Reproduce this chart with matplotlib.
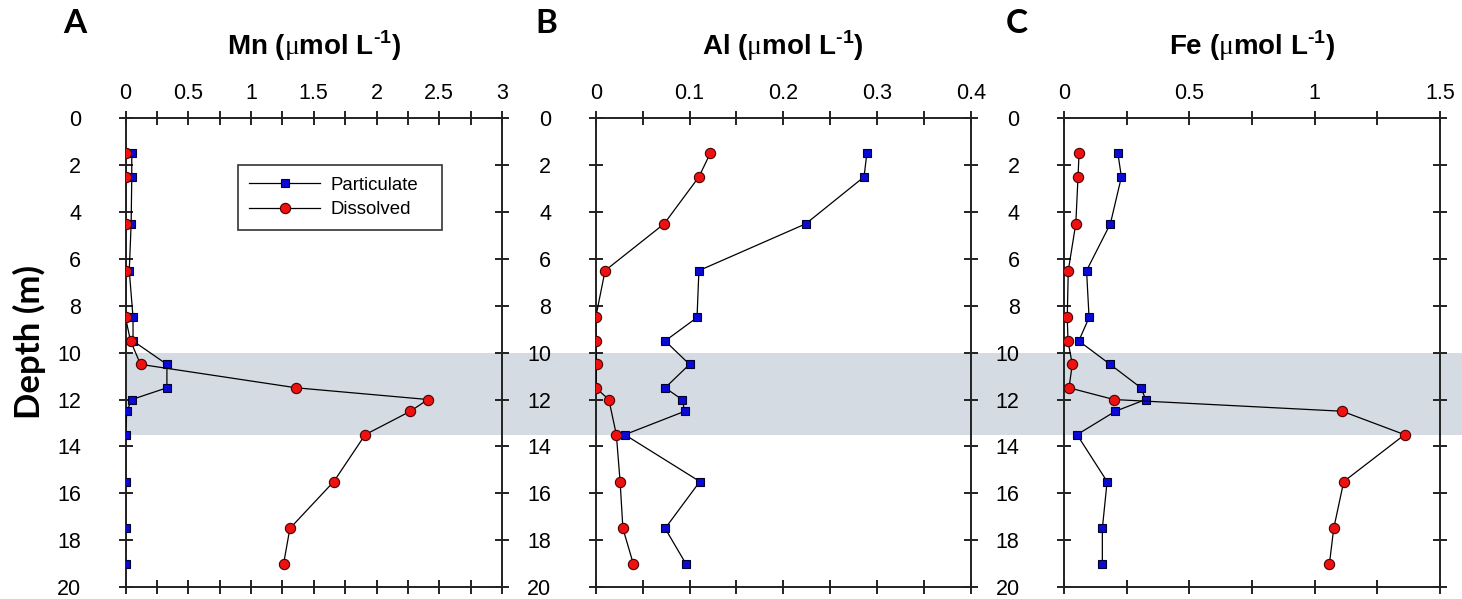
import matplotlib
matplotlib.use("Agg")
import matplotlib.pyplot as plt
import matplotlib.transforms as mtransforms
from matplotlib.patches import Rectangle

# Sampling depths (m)
depth = [1.5, 2.5, 4.5, 6.5, 8.5, 9.5, 10.5, 11.5, 12.0, 12.5, 13.5, 15.5, 17.5, 19.0]

# Manganese (umol/L)
mn_part = [0.05, 0.05, 0.045, 0.03, 0.06, 0.06, 0.33, 0.33, 0.05, 0.01, 0.0, 0.0, 0.0, 0.0]
mn_diss = [0.0, 0.0, 0.0, 0.0, 0.0, 0.04, 0.12, 1.36, 2.41, 2.27, 1.91, 1.66, 1.31, 1.26]

# Aluminium (umol/L); no dissolved sample at 12.5 m
al_part = [0.289, 0.286, 0.224, 0.110, 0.108, 0.074, 0.100, 0.074, 0.092, 0.095, 0.031, 0.111, 0.074, 0.096]
al_diss = [0.122, 0.110, 0.073, 0.010, 0.0, 0.0, 0.001, 0.0, 0.014, None, 0.022, 0.026, 0.029, 0.040]

# Iron (umol/L)
fe_part = [0.215, 0.229, 0.185, 0.090, 0.100, 0.059, 0.184, 0.307, 0.326, 0.205, 0.052, 0.172, 0.153, 0.153]
fe_diss = [0.060, 0.056, 0.047, 0.017, 0.013, 0.016, 0.033, 0.020, 0.199, 1.110, 1.359, 1.116, 1.076, 1.059]

panel_letters = ["A", "B", "C"]
element_names = ["Mn", "Al", "Fe"]
x_limits = [(0, 3), (0, 0.4), (0, 1.5)]
x_major = [[0, 0.5, 1, 1.5, 2, 2.5, 3], [0, 0.1, 0.2, 0.3, 0.4], [0, 0.5, 1, 1.5]]
x_minor = [[0.25, 0.75, 1.25, 1.75, 2.25, 2.75], [0.05, 0.15, 0.25, 0.35], [0.25, 0.75, 1.25]]
x_labels = [["0", "0.5", "1", "1.5", "2", "2.5", "3"],
            ["0", "0.1", "0.2", "0.3", "0.4"],
            ["0", "0.5", "1", "1.5"]]
depth_ticks = [0, 2, 4, 6, 8, 10, 12, 14, 16, 18, 20]
band_top, band_bottom = 10.0, 13.5

series = [(mn_part, mn_diss), (al_part, al_diss), (fe_part, fe_diss)]

# Fonts for the unit string: upright serif mu, bold sans superscript
plt.rcParams["mathtext.fontset"] = "custom"
plt.rcParams["mathtext.rm"] = "Liberation Sans:bold"
plt.rcParams["mathtext.sf"] = "Liberation Serif"
plt.rcParams["mathtext.bf"] = "Liberation Sans:bold"

W, H = 1462, 599
fig = plt.figure(figsize=(W / 100, H / 100), dpi=100)

ax_top_px, ax_bot_px = 118.3, 587.0
lefts_px = [125.5, 595.7, 1064.0]
widths_px = [376.5, 375.3, 376.0]

tick_font = {"family": "Liberation Sans", "size": 15.5}
line_kw = dict(color="black", lw=0.9)
sq_kw = dict(marker="s", ms=6.2, mfc="#0a0ad8", mec="#00002a", mew=0.8)
ci_kw = dict(marker="o", ms=7.4, mfc="#ee1111", mec="#4a0000", mew=0.8)

axes = []
for i in range(3):
    ax = fig.add_axes([lefts_px[i] / W, 1 - ax_bot_px / H,
                       widths_px[i] / W, (ax_bot_px - ax_top_px) / H])
    ax.set_facecolor("none")
    ax.set_zorder(1)
    part, diss = series[i]

    dp = [d for d, v in zip(depth, part) if v is not None]
    vp = [v for v in part if v is not None]
    dd = [d for d, v in zip(depth, diss) if v is not None]
    vd = [v for v in diss if v is not None]

    ax.plot(vp, dp, **line_kw, **sq_kw, label="Particulate", zorder=3)
    ax.plot(vd, dd, **line_kw, **ci_kw, label="Dissolved", zorder=4)

    ax.set_xlim(*x_limits[i])
    ax.set_ylim(20, 0)
    ax.xaxis.tick_top()
    ax.set_xticks(x_major[i])
    ax.set_xticks(x_minor[i], minor=True)
    ax.set_xticklabels(x_labels[i], fontdict=tick_font)
    ax.set_yticks(depth_ticks)
    ax.set_yticklabels([str(t) for t in depth_ticks], fontdict=tick_font)

    for s in ax.spines.values():
        s.set_linewidth(1.4)
        s.set_color("#222222")
    ax.tick_params(axis="both", which="both", direction="inout", length=10,
                   width=1.4, color="#222222",
                   top=True, bottom=True, left=True, right=True,
                   labeltop=True, labelbottom=False, labelleft=True, labelright=False)
    ax.tick_params(axis="x", which="major", pad=5)
    ax.tick_params(axis="y", which="major", pad=27)

    ax.text(0.5, 1 + (ax_top_px - 55) / (ax_bot_px - ax_top_px),
            element_names[i] + r" ($\mathsf{\mu}$mol L$^{\text{-1}}$)",
            transform=ax.transAxes, ha="center", va="baseline",
            fontsize=20, fontweight="bold", family="Liberation Sans")
    axes.append(ax)

# Panel letters
letter_x = [63, 535, 1006]
for lx, letter in zip(letter_x, panel_letters):
    fig.text(lx / W, 1 - 33 / H, letter, ha="left", va="baseline",
             fontsize=24, fontweight="bold", family="Lato")

# Shared depth label
fig.text(29 / W, 1 - 342 / H, "Depth (m)", rotation=90, ha="center", va="center",
         fontsize=25, fontweight="bold", family="Lato")

# Shaded layer spanning all panels
trans = mtransforms.blended_transform_factory(fig.transFigure, axes[0].transData)
band = Rectangle((lefts_px[0] / W, band_top), 1.0 - lefts_px[0] / W, band_bottom - band_top,
                 transform=trans, facecolor="#d5dbe3", edgecolor="none", zorder=-1)
fig.patches.append(band)

# Legend in panel A
leg = axes[0].legend(loc="upper left",
                     bbox_to_anchor=(0.298, 0.9004 - 0.134, 0.542, 0.134),
                     mode="expand", borderaxespad=0,
                     prop={"family": "Liberation Sans", "size": 13.4},
                     frameon=True, fancybox=False, handlelength=3.8,
                     handletextpad=0.55, labelspacing=0.42, borderpad=0.62)
leg.get_frame().set_edgecolor("black")
leg.get_frame().set_linewidth(1.2)

fig.savefig("out.png", dpi=100)
